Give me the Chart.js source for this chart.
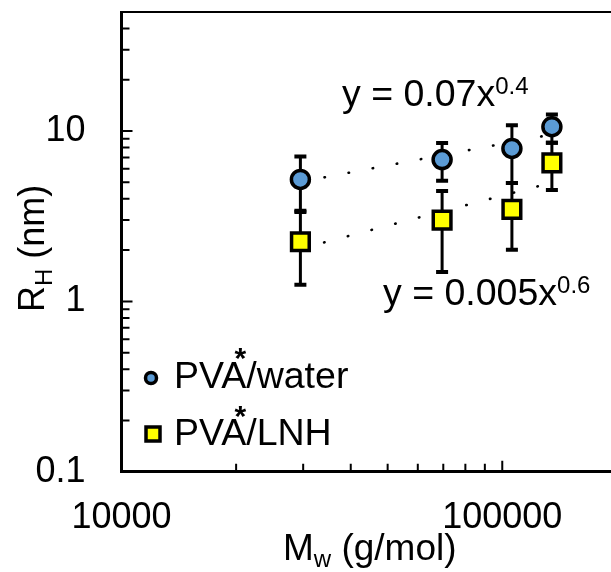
<!DOCTYPE html>
<html>
<head>
<meta charset="utf-8">
<script src="https://cdn.jsdelivr.net/npm/chart.js@4.4.1/dist/chart.umd.min.js"></script>
<style>
  html, body { margin: 0; padding: 0; background: #fff; overflow: hidden; }
</style>
</head>
<body>
<canvas id="chart" width="611" height="572"></canvas>
<script>
// Molecular weight (g/mol) of the four samples
const mw = [29500, 69500, 106000, 135000];

// PVA*/water: hydrodynamic radius and error bar ends (nm)
const rhWater = [5.2, 6.8, 7.9, 10.6];
const waterHi = [7.1, 8.5, 10.8, 12.5];
const waterLo = [3.35, 5.1, 4.95, 8.55];

// PVA*/LNH
const rhLnh = [2.24, 3.0, 3.47, 6.5];
const lnhHi = [3.4, 4.45, 4.95, 8.55];
const lnhLo = [1.25, 1.49, 2.01, 4.5];

// power-law trendlines, read at the first and last sample
const fitX = [29500, 135000];
const fitWater = [5.03, 9.55];
const fitLnh = [2.04, 4.98];

// axis ticks
const xLabels = [10000, 100000];
const xMinor = [20000, 30000, 40000, 50000, 60000, 70000, 80000, 90000];
const yLabels = [0.1, 1, 10];
const yMinor = [0.2, 0.3, 0.4, 0.5, 0.6, 0.7, 0.8, 0.9, 2, 3, 4, 5, 6, 7, 8, 9, 20, 30, 40];

const FONT = "'Liberation Sans', Arial, sans-serif";
const BLUE = '#5b9bd5';
const YELLOW = '#ffff00';

const pts = (xs, ys) => xs.map((x, i) => ({ x: x, y: ys[i] }));

const noPad = s => { s.paddingLeft = 0; s.paddingRight = 0; s.paddingTop = 0; s.paddingBottom = 0; };

const extras = {
  id: 'extras',
  beforeDatasetsDraw(chart) {
    const { ctx, scales: { x, y } } = chart;
    ctx.save();
    ctx.strokeStyle = '#000';
    const bars = [[waterHi, waterLo], [lnhHi, lnhLo]];
    bars.forEach(([hi, lo]) => {
      mw.forEach((m, i) => {
        const px = x.getPixelForValue(m);
        const t = y.getPixelForValue(hi[i]);
        const b = y.getPixelForValue(lo[i]);
        ctx.lineWidth = 3;
        ctx.beginPath(); ctx.moveTo(px, t); ctx.lineTo(px, b); ctx.stroke();
        ctx.lineWidth = 4;
        ctx.beginPath();
        ctx.moveTo(px - 6, t); ctx.lineTo(px + 6, t);
        ctx.moveTo(px - 6, b); ctx.lineTo(px + 6, b);
        ctx.stroke();
      });
    });
    ctx.restore();
  },
  afterDraw(chart) {
    const { ctx, chartArea: a, scales: { x, y } } = chart;
    ctx.save();
    ctx.strokeStyle = '#000';
    ctx.fillStyle = '#000';

    // top frame line
    ctx.lineWidth = 2;
    ctx.beginPath(); ctx.moveTo(a.left, a.top); ctx.lineTo(a.right, a.top); ctx.stroke();

    // inward tick marks
    ctx.lineWidth = 2;
    ctx.beginPath();
    yLabels.forEach(v => { const p = y.getPixelForValue(v); ctx.moveTo(a.left, p); ctx.lineTo(a.left + 11, p); });
    yMinor.forEach(v => { const p = y.getPixelForValue(v); ctx.moveTo(a.left, p); ctx.lineTo(a.left + 8, p); });
    xLabels.forEach(v => { const p = x.getPixelForValue(v); ctx.moveTo(p, a.bottom); ctx.lineTo(p, a.bottom - 11); });
    xMinor.forEach(v => { const p = x.getPixelForValue(v); ctx.moveTo(p, a.bottom); ctx.lineTo(p, a.bottom - 8); });
    ctx.stroke();

    // text with sub/superscripts
    const run = (parts, x0, base) => {
      let cx = x0;
      parts.forEach(([txt, size, dy]) => {
        ctx.font = size + 'px ' + FONT;
        ctx.fillText(txt, cx, base + dy);
        cx += ctx.measureText(txt).width;
      });
      return cx;
    };
    ctx.textBaseline = 'alphabetic';
    ctx.textAlign = 'left';

    run([['y = 0.07x', 37.5, 0], ['0.4', 24, -12]], 342, 106);
    run([['y = 0.005x', 37.5, 0], ['0.6', 24, -12]], 383, 305);

    // axis titles
    run([['M', 37, 0], ['w', 24, 7], [' (g/mol)', 37, 0]], 283, 560);
    ctx.save();
    ctx.translate(44, 312);
    ctx.rotate(-Math.PI / 2);
    run([['R', 36, 0], ['H', 24, 8], [' (nm)', 36, 0]], 0, 0);
    ctx.restore();

    // legend
    const items = [
      { ds: chart.data.datasets[0], cy: 378, base: 388, top: 352 },
      { ds: chart.data.datasets[1], cy: 434, base: 445, top: 410 }
    ];
    items.forEach(it => {
      ctx.lineWidth = 3.5;
      ctx.fillStyle = it.ds.backgroundColor;
      ctx.beginPath();
      if (it.ds.pointStyle === 'circle') ctx.arc(151, it.cy, 5.5, 0, Math.PI * 2);
      else ctx.rect(146, it.cy - 7, 14, 14);
      ctx.fill(); ctx.stroke();
      ctx.fillStyle = '#000';
      const name = it.ds.label.split('*');
      ctx.font = '37.5px ' + FONT;
      ctx.fillText(name[0], 174, it.base);
      const w0 = ctx.measureText(name[0]).width;
      ctx.fillText(name[1], 174 + w0, it.base);
      ctx.font = 'bold 30px ' + FONT;
      ctx.textAlign = 'center';
      ctx.fillText('*', 174 + w0 - 6, it.top + 16);
      ctx.textAlign = 'left';
    });
    ctx.restore();
  }
};

new Chart(document.getElementById('chart'), {
  type: 'scatter',
  data: {
    datasets: [
      {
        label: 'PVA*/water', data: pts(mw, rhWater), pointStyle: 'circle',
        backgroundColor: BLUE, borderColor: '#000', pointRadius: 9, pointBorderWidth: 3.5
      },
      {
        label: 'PVA*/LNH', data: pts(mw, rhLnh), pointStyle: 'rect',
        backgroundColor: YELLOW, borderColor: '#000', pointRadius: 12.5, pointBorderWidth: 3.5
      },
      {
        label: 'fit water', data: pts(fitX, fitWater), showLine: true, pointRadius: 0,
        borderColor: '#000', borderWidth: 2.6, borderDash: [0.5, 24], borderCapStyle: 'round'
      },
      {
        label: 'fit LNH', data: pts(fitX, fitLnh), showLine: true, pointRadius: 0,
        borderColor: '#000', borderWidth: 2.6, borderDash: [0.5, 24], borderCapStyle: 'round'
      }
    ]
  },
  options: {
    responsive: false,
    animation: false,
    layout: { autoPadding: false, padding: { top: 12, right: 0, left: 0, bottom: 0 } },
    plugins: { legend: { display: false }, tooltip: { enabled: false } },
    scales: {
      x: {
        type: 'logarithmic', min: 10000, max: 193000,
        afterBuildTicks: s => { s.ticks = xLabels.map(v => ({ value: v })); },
        afterFit: s => { s.height = 100.3; noPad(s); },
        grid: { display: false },
        border: { display: true, color: '#000', width: 3 },
        ticks: { color: '#000', font: { family: FONT, size: 36 }, padding: 17, maxRotation: 0, autoSkip: false,
          callback: v => String(v) }
      },
      y: {
        type: 'logarithmic', min: 0.1, max: 50,
        afterBuildTicks: s => { s.ticks = yLabels.map(v => ({ value: v })); },
        afterFit: s => { s.width = 121.5; noPad(s); },
        grid: { display: false },
        border: { display: true, color: '#000', width: 3 },
        ticks: { color: '#000', font: { family: FONT, size: 36 }, padding: 28, autoSkip: false,
          callback: v => String(v) }
      }
    }
  },
  plugins: [extras]
});
</script>
</body>
</html>
